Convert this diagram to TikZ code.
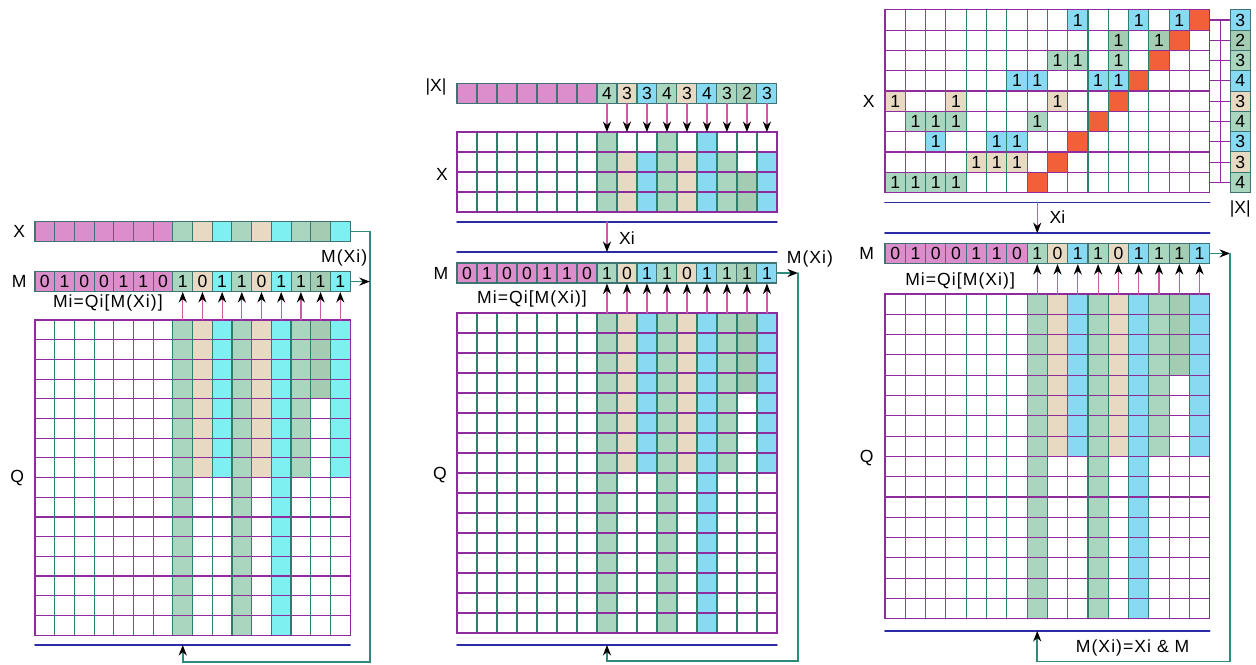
\documentclass[tikz,border=0pt]{standalone}
\usepackage{fontspec}
\setmainfont{Liberation Sans}
\usetikzlibrary{arrows.meta}
\definecolor{cp}{HTML}{DC8DCB}
\definecolor{cg}{HTML}{AAD6BF}
\definecolor{cgd}{HTML}{A3CCB2}
\definecolor{ct}{HTML}{E8D9C3}
\definecolor{ccl}{HTML}{7EF0F2}
\definecolor{ccs}{HTML}{88D9F2}
\definecolor{cr}{HTML}{F2603A}
\definecolor{gv}{HTML}{2E7E6C}
\definecolor{gh}{HTML}{8E2C9E}
\definecolor{bl}{HTML}{2B2BA6}
\definecolor{wr}{HTML}{2F8A7C}
\definecolor{stem}{HTML}{CC5AA6}
\definecolor{cellb}{HTML}{3E7474}

\begin{document}
\begin{tikzpicture}[x=0.02cm,y=-0.02cm,>={Stealth[length=6pt,width=4.6pt,color=black]},
  font=\fontsize{10}{12}\selectfont,line cap=round,
  bit/.style={draw=cellb,line width=0.6pt,inner sep=0pt,minimum size=0.4cm},
  vg/.style={draw=gv,line width=0.65pt},
  hg/.style={draw=gh,line width=0.65pt},
  bline/.style={draw=bl,line width=0.9pt},
  wire/.style={draw=wr,line width=0.9pt,->},
  pin/.style={draw=stem,line width=0.7pt,->},
  lbl/.style={inner sep=0pt},
  eq/.style={inner sep=0pt,font=\fontsize{10}{12}\selectfont\addfontfeatures{LetterSpace=6}}]
\useasboundingbox (0,0) rectangle (1256,664);

% left: one step
\begin{scope}[shift={(35,320)},x=0.394cm,y=-0.394cm,bit/.append style={minimum size=0.394cm}]
\colorlet{cc}{ccl}
\foreach \c/\f/\h in {8/cg/16,9/ct/8,10/cc/8,11/cg/16,12/ct/8,13/cc/16,14/cg/8,15/cgd/4,16/cc/8}
  \fill[\f] (\c-1,0) rectangle (\c,\h);
\foreach \j in {1,...,15} \draw[hg] (0,\j) -- (16,\j);
\foreach \i in {1,...,15} \draw[vg] (\i,0) -- (\i,16);
\draw[hg] (0,0) rectangle (16,16);
\foreach \f [count=\i] in {cp,cp,cp,cp,cp,cp,cp,cg,ct,cc,cg,ct,cc,cg,cgd,cc}
  \node[bit,fill=\f] (lx\i) at (\i-.5,-4.5) {};
\foreach \d/\f [count=\i] in {0/cp,1/cp,0/cp,0/cp,1/cp,1/cp,0/cp,1/cg,0/ct,1/cc,1/cg,0/ct,1/cc,1/cg,1/cgd,1/cc}
  \node[bit,fill=\f] (lm\i) at (\i-.5,-1.95) {\d};
\foreach \i in {8,...,16} {
  \coordinate (lq\i) at (\i-.5,0);
  \draw[pin] (lq\i) -- (lm\i.south);
}
\draw[bline] (0,16.5) -- (16,16.5);
\coordinate (lb) at (7.5,16.5);
\coordinate (lk) at (17,17.35);
\draw[wire] (lx16.east) -| (lk) -| (lb);
\draw[wire] (lm16.east) -- (lm16.east -| lk);
\node[lbl] (lxl) at (-0.8,-4.5) {X};
\node[lbl] (lml) at (-0.8,-1.95) {M};
\node[lbl] (lql) at (-0.9,8) {Q};
\node[eq] (lrule) at (3.7,-0.85) {Mi=Qi[M(Xi)]};
\node[eq] (lmx) at (15.7,-3.15) {M(Xi)};
\end{scope}

% middle: X with its sizes
\begin{scope}[shift={(457,313)},x=0.4cm,y=-0.4cm]
\colorlet{cc}{ccs}
\foreach \c/\f/\h in {8/cg/16,9/ct/8,10/cc/8,11/cg/16,12/ct/8,13/cc/16,14/cg/8,15/cgd/4,16/cc/8}
  \fill[\f] (\c-1,0) rectangle (\c,\h);
\foreach \j in {1,...,15} \draw[hg] (0,\j) -- (16,\j);
\foreach \i in {1,...,15} \draw[vg] (\i,0) -- (\i,16);
\draw[hg] (0,0) rectangle (16,16);
\foreach \c/\f/\h in {8/cg/4,9/ct/3,10/cc/3,11/cg/4,12/ct/3,13/cc/4,14/cg/3,15/cgd/2,16/cc/3}
  \fill[\f] (\c-1,-5.05-\h) rectangle (\c,-5.05);
\foreach \j in {-8.05,-7.05,-6.05} \draw[hg] (0,\j) -- (16,\j);
\foreach \i in {1,...,15} \draw[vg] (\i,-9.05) -- (\i,-5.05);
\draw[hg] (0,-9.05) rectangle (16,-5.05);
\foreach \i in {1,...,7} \node[bit,fill=cp] (cn\i) at (\i-.5,-11) {};
\foreach \d/\f [count=\i from 8] in {4/cg,3/ct,3/cc,4/cg,3/ct,4/cc,3/cg,2/cgd,3/cc} {
  \node[bit,fill=\f] (cn\i) at (\i-.5,-11) {\d};
  \coordinate (cx\i) at (\i-.5,-9.05);
  \draw[pin] (cn\i.south) -- (cx\i);
}
\foreach \d/\f [count=\i] in {0/cp,1/cp,0/cp,0/cp,1/cp,1/cp,0/cp,1/cg,0/ct,1/cc,1/cg,0/ct,1/cc,1/cg,1/cgd,1/cc}
  \node[bit,fill=\f] (cm\i) at (\i-.5,-2) {\d};
\foreach \i in {8,...,16} {
  \coordinate (cq\i) at (\i-.5,0);
  \draw[pin] (cq\i) -- (cm\i.south);
}
\draw[bline] (0,-4.55) -- (16,-4.55);
\draw[bline] (0,-3.05) -- (16,-3.05);
\coordinate (cxa) at (7.5,-4.55);
\coordinate (cxb) at (7.5,-3.05);
\draw[pin] (cxa) -- (cxb);
\draw[bline] (0,16.6) -- (16,16.6);
\coordinate (cb) at (7.5,16.6);
\coordinate (ck) at (17.05,17.4);
\draw[wire] (cm16.east) -- (cm16.east -| ck);
\draw[wire] (cm16.east -| ck) -- (ck) -| (cb);
\node[lbl] (cnl) at (-1.05,-11.3) {|X|};
\node[lbl] (cxl) at (-0.75,-6.95) {X};
\node[lbl] (cxi) at (8.5,-3.75) {Xi};
\node[lbl] (cml) at (-0.8,-2) {M};
\node[lbl] (cql) at (-0.85,8.1) {Q};
\node[eq] (crule) at (3.75,-0.7) {Mi=Qi[M(Xi)]};
\node[eq] (cmx) at (17.65,-2.7) {M(Xi)};
\end{scope}

% right: X as rows
\begin{scope}[shift={(885,294)},x=0.406cm,y=-0.406cm,bit/.append style={minimum size=0.406cm}]
\colorlet{cc}{ccs}
\foreach \c/\f/\h in {8/cg/16,9/ct/8,10/cc/8,11/cg/16,12/ct/8,13/cc/16,14/cg/8,15/cgd/4,16/cc/8}
  \fill[\f] (\c-1,0) rectangle (\c,\h);
\foreach \j in {1,...,15} \draw[hg] (0,\j) -- (16,\j);
\foreach \i in {1,...,15} \draw[vg] (\i,0) -- (\i,16);
\draw[hg] (0,0) rectangle (16,16);
\foreach \r/\cs/\f in {1/{10,13,15}/cc,2/{12,14}/cgd,3/{9,10,12}/cg,4/{7,8,11,12}/cc,5/{1,4,9}/ct,
    6/{2,3,4,8}/cg,7/{3,6,7}/cc,8/{5,6,7}/ct,9/{1,2,3,4}/cg}
  \foreach \c in \cs {
    \fill[\f] (\c-1,\r-15) rectangle (\c,\r-14);
    \node[lbl] (r\r-\c) at (\c-.5,\r-14.5) {1};
  }
\foreach \r in {1,...,9} \fill[cr] (16-\r,\r-15) rectangle (17-\r,\r-14);
\foreach \j in {-13,...,-6} \draw[hg] (0,\j) -- (16,\j);
\foreach \i in {1,...,15} \draw[vg] (\i,-14) -- (\i,-5);
\draw[hg] (0,-14) rectangle (16,-5);
\foreach \d/\f [count=\r] in {3/cc,2/cgd,3/cg,4/cc,3/ct,4/cg,3/cc,3/ct,4/cg} {
  \node[bit,fill=\f] (rn\r) at (17.5,\r-14.5) {\d};
  \coordinate (re\r) at (16,\r-14.5);
  \draw[hg] (re\r) -- (rn\r.west);
}
\draw[hg] (16.55,-13.5) -- (16.55,-5.5);
\foreach \d/\f [count=\i] in {0/cp,1/cp,0/cp,0/cp,1/cp,1/cp,0/cp,1/cg,0/ct,1/cc,1/cg,0/ct,1/cc,1/cg,1/cgd,1/cc}
  \node[bit,fill=\f] (rm\i) at (\i-.5,-2) {\d};
\foreach \i in {8,...,16} {
  \coordinate (rq\i) at (\i-.5,0);
  \draw[pin] (rq\i) -- (rm\i.south);
}
\draw[bline] (0,-4.5) -- (16,-4.5);
\draw[bline] (0,-3) -- (16,-3);
\coordinate (rxa) at (7.5,-4.5);
\coordinate (rxb) at (7.5,-3);
\draw[pin] (rxa) -- (rxb);
\draw[bline] (0,16.6) -- (16,16.6);
\coordinate (rb) at (7.5,16.6);
\coordinate (rk) at (17,18.1);
\draw[wire] (rm16.east) -- (rm16.east -| rk);
\draw[wire] (rm16.east -| rk) -- (rk) -| (rb);
\node[lbl] (rxl) at (-0.8,-9.5) {X};
\node[lbl] (rnl) at (17.5,-4.2) {|X|};
\node[lbl] (rxi) at (8.5,-3.8) {Xi};
\node[lbl] (rml) at (-0.9,-2) {M};
\node[lbl] (rql) at (-0.9,8.1) {Q};
\node[eq] (rrule) at (3.7,-0.65) {Mi=Qi[M(Xi)]};
\node[eq] (rmx) at (12.2,17.45) {M(Xi)=Xi \& M};
\end{scope}
\end{tikzpicture}
\end{document}
